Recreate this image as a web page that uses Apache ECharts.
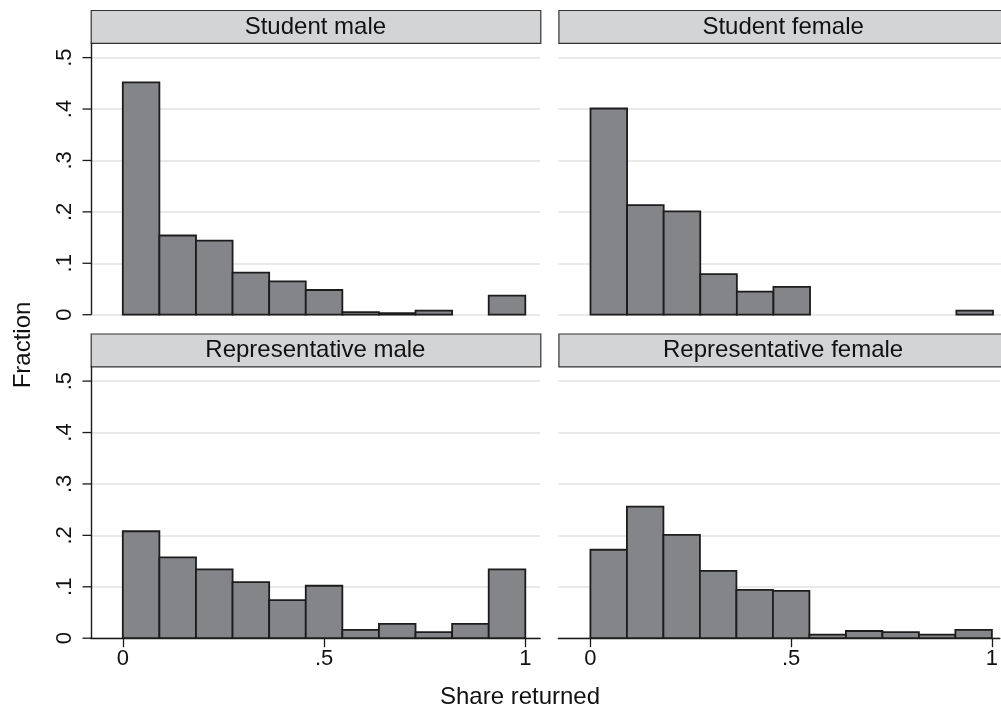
<!DOCTYPE html>
<html><head><meta charset="utf-8">
<script src="https://cdn.jsdelivr.net/npm/echarts@6/dist/echarts.min.js"></script>
<style>html,body{margin:0;padding:0;background:#fff;overflow:hidden}#c{width:1001px;height:716px}</style>
</head><body><div id="c"></div>
<script>
// ---- data ----
const panelTitles = ['Student male', 'Student female', 'Representative male', 'Representative female'];
const binCount = 11; // bins of width 1/11 on [0,1]
const studentMale   = [0.452, 0.154, 0.144, 0.082, 0.065, 0.048, 0.005, 0.003, 0.008, 0, 0.037];
const studentFemale = [0.401, 0.213, 0.201, 0.079, 0.045, 0.054, 0, 0, 0, 0, 0.008];
const repMale       = [0.208, 0.157, 0.134, 0.109, 0.074, 0.102, 0.016, 0.028, 0.012, 0.028, 0.134];
const repFemale     = [0.172, 0.256, 0.201, 0.131, 0.094, 0.092, 0.007, 0.014, 0.012, 0.007, 0.016];
const yTicks = [0, 0.1, 0.2, 0.3, 0.4, 0.5];
const xTicks = [0, 0.5, 1];
const yTitle = 'Fraction';
const xTitle = 'Share returned';

const panels = [studentMale, studentFemale, repMale, repFemale];
const FONT = '"Liberation Sans", Arial, Helvetica, sans-serif';

// layout
const gridH = 272;
const lefts = [90.6, 558.3, 90.6, 558.3];
const widths = [449.6, 442.7, 449.6, 442.7];
const xMin = -0.08;
const xMax = [1.037, 1.0199, 1.037, 1.0199];
const yMax = 0.529;
const headerWidths = [449.6, 460, 449.6, 460];
const tops = [42.7, 42.7, 366.2, 366.2];
const headerH = 32.8;
const AXIS_COLOR = '#1a1a1a';

function fmt(v) {
  if (Math.abs(v) < 1e-9) return '0';
  const r = Math.round(v * 10) / 10;
  if (r === 1) return '1';
  return String(r).replace(/^0\./, '.');
}

const grids = [], xAxes = [], yAxes = [], series = [], graphics = [];
panels.forEach((vals, k) => {
  const isLeft = (k % 2 === 0), isBottom = (k >= 2);
  grids.push({ left: lefts[k], top: tops[k], width: widths[k], height: gridH, containLabel: false });
  xAxes.push({
    type: 'value', gridIndex: k, min: xMin, max: xMax[k], position: 'bottom',
    axisLine: { show: isBottom, onZero: false, lineStyle: { color: AXIS_COLOR, width: 1.3 } },
    axisTick: { show: isBottom, customValues: xTicks, length: 9, lineStyle: { color: AXIS_COLOR, width: 1.3 } },
    axisLabel: { show: isBottom, customValues: xTicks, formatter: fmt, fontSize: 22, fontFamily: FONT, color: '#111', margin: 10 },
    splitLine: { show: false }
  });
  yAxes.push({
    type: 'value', gridIndex: k, min: 0, max: yMax, interval: 0.1, position: 'left',
    axisLine: { show: false, onZero: false },
    axisTick: { show: false },
    axisLabel: { show: isLeft, customValues: yTicks, formatter: fmt, rotate: 90, fontSize: 22, fontFamily: FONT, color: '#111', margin: 15 },
    splitLine: { show: true, lineStyle: { color: '#e2e2e2', width: 1.6 } }
  });
  series.push({
    type: 'custom', xAxisIndex: k, yAxisIndex: k,
    data: vals.map((v, i) => [i / binCount, (i + 1) / binCount, v]),
    encode: { x: [0, 1], y: 2 },
    renderItem: function (params, api) {
      const h = api.value(2);
      if (!(h > 0)) return null;
      const p0 = api.coord([api.value(0), h]);
      const p1 = api.coord([api.value(1), 0]);
      return {
        type: 'rect',
        shape: { x: p0[0], y: p0[1], width: p1[0] - p0[0], height: p1[1] - p0[1] },
        style: { fill: '#848589', stroke: '#1c1c1c', lineWidth: 1.8 }
      };
    },
    silent: true
  });
  graphics.push({
    type: 'rect', left: lefts[k], top: tops[k] - headerH,
    shape: { x: 0, y: 0, width: headerWidths[k], height: headerH },
    style: { fill: '#d3d4d6', stroke: '#333', lineWidth: 1.2 }, z: 100
  });
  graphics.push({
    type: 'text', x: lefts[k] + 449.6 / 2, y: tops[k] - headerH / 2 + 1,
    style: { text: panelTitles[k], font: '24px ' + FONT, fill: '#111', align: 'center', verticalAlign: 'middle' }, z: 101
  });
  if (isLeft) {
    // left y-axis line and tick marks on their own top layer
    const ax = Math.round(lefts[k]) + 0.5;
    graphics.push({
      type: 'polyline', zlevel: 3, z: 10, silent: true,
      shape: { points: [[ax, tops[k]], [ax, tops[k] + gridH]] },
      style: { stroke: AXIS_COLOR, lineWidth: 1.4, fill: null }
    });
    yTicks.forEach(t => {
      const ty = tops[k] + gridH * (1 - t / yMax);
      graphics.push({
        type: 'polyline', zlevel: 3, z: 10, silent: true,
        shape: { points: [[ax - 9, ty], [ax, ty]] },
        style: { stroke: AXIS_COLOR, lineWidth: 1.3, fill: null }
      });
    });
  }
});

graphics.push({
  type: 'text', x: 23, y: 345, rotation: Math.PI / 2,
  style: { text: yTitle, font: '24px ' + FONT, fill: '#111', align: 'center', verticalAlign: 'middle' }
});
graphics.push({
  type: 'text', x: 520, y: 697,
  style: { text: xTitle, font: '24px ' + FONT, fill: '#111', align: 'center', verticalAlign: 'middle' }
});

const chart = echarts.init(document.getElementById('c'), null, { renderer: 'canvas' });
chart.setOption({
  animation: false,
  backgroundColor: '#fff',
  grid: grids, xAxis: xAxes, yAxis: yAxes, series: series, graphic: graphics
});
</script></body></html>
